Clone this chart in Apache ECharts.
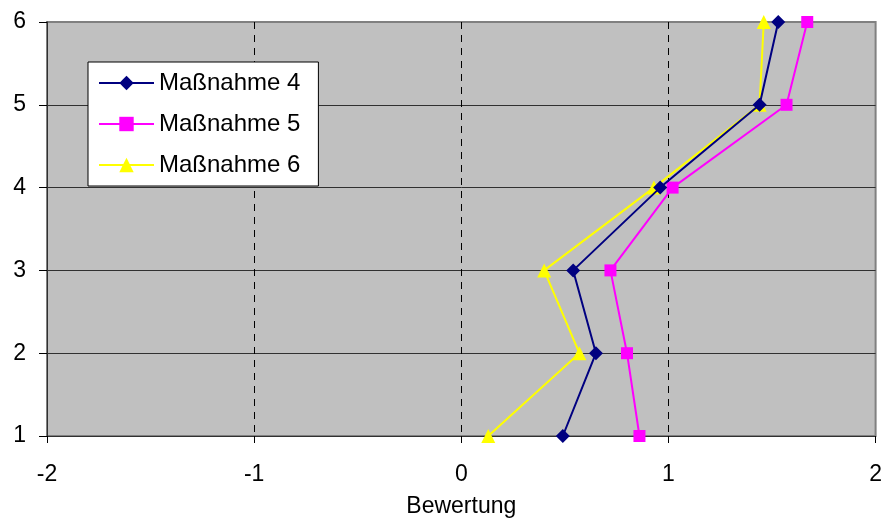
<!DOCTYPE html>
<html><head><meta charset="utf-8">
<script src="https://cdn.jsdelivr.net/npm/echarts@6/dist/echarts.min.js"></script>
<style>html,body{margin:0;padding:0;background:#fff}#c{width:885px;height:523px}</style>
</head><body><div id="c"></div>
<script>
const levels = [1, 2, 3, 4, 5, 6];
const seriesNames = ['Maßnahme 4', 'Maßnahme 5', 'Maßnahme 6'];
const m4 = [0.49, 0.65, 0.54, 0.96, 1.44, 1.53];
const m5 = [0.86, 0.80, 0.72, 1.02, 1.57, 1.67];
const m6 = [0.13, 0.57, 0.40, 0.93, 1.44, 1.46];
const xTicks = [-2, -1, 0, 1, 2];
const yTicks = [1, 2, 3, 4, 5, 6];

const FONT = 'Liberation Sans, Arial, sans-serif';
const pairs = vals => vals.map((v, i) => [v, levels[i]]);
const styles = [
  {color: '#000080', symbol: 'diamond', size: 14},
  {color: '#FF00FF', symbol: 'rect', size: 12},
  {color: '#FFFF00', symbol: 'triangle', size: 14}
];
const allVals = [m4, m5, m6];

const chart = echarts.init(document.getElementById('c'), null, {renderer: 'canvas'});
chart.setOption({
  animation: false,
  backgroundColor: '#ffffff',
  grid: {left: 47, right: 9, top: 22, bottom: 86, show: true,
    backgroundColor: '#C0C0C0', borderColor: '#808080', borderWidth: 2},
  legend: {
    left: 88, top: 62, orient: 'vertical',
    data: seriesNames,
    backgroundColor: '#ffffff', borderColor: '#000000', borderWidth: 1,
    padding: [9, 18, 9, 10],
    itemWidth: 55, itemHeight: 18, itemGap: 17,
    textStyle: {fontFamily: FONT, fontSize: 24, lineHeight: 24, color: '#000'}
  },
  xAxis: {
    type: 'value', min: xTicks[0], max: xTicks[xTicks.length - 1], interval: 1,
    name: 'Bewertung', nameLocation: 'middle', nameGap: 59,
    nameTextStyle: {fontFamily: FONT, fontSize: 23, color: '#000'},
    axisLine: {show: true, onZero: false, lineStyle: {color: '#303030', width: 1}},
    axisTick: {show: true, length: 7, lineStyle: {color: '#000'}},
    axisLabel: {fontFamily: FONT, fontSize: 23, color: '#000', margin: 27},
    splitLine: {show: true, showMinLine: false, showMaxLine: false,
      lineStyle: {color: '#000', type: [7, 6], width: 1}}
  },
  yAxis: {
    type: 'value', min: yTicks[0], max: yTicks[yTicks.length - 1], interval: 1,
    axisLine: {show: true, onZero: false, lineStyle: {color: '#303030', width: 1}},
    axisTick: {show: true, length: 8, lineStyle: {color: '#000'}},
    axisLabel: {fontFamily: FONT, fontSize: 23, color: '#000', margin: 21},
    splitLine: {show: true, showMinLine: false, showMaxLine: false,
      lineStyle: {color: '#303030', width: 1}}
  },
  series: seriesNames.map((n, k) => ({
    name: n, type: 'line', data: pairs(allVals[k]),
    symbol: styles[k].symbol, symbolSize: styles[k].size,
    lineStyle: {color: styles[k].color, width: 2},
    itemStyle: {color: styles[k].color},
    clip: false, z: 3 - k + 2
  }))
});
</script></body></html>
